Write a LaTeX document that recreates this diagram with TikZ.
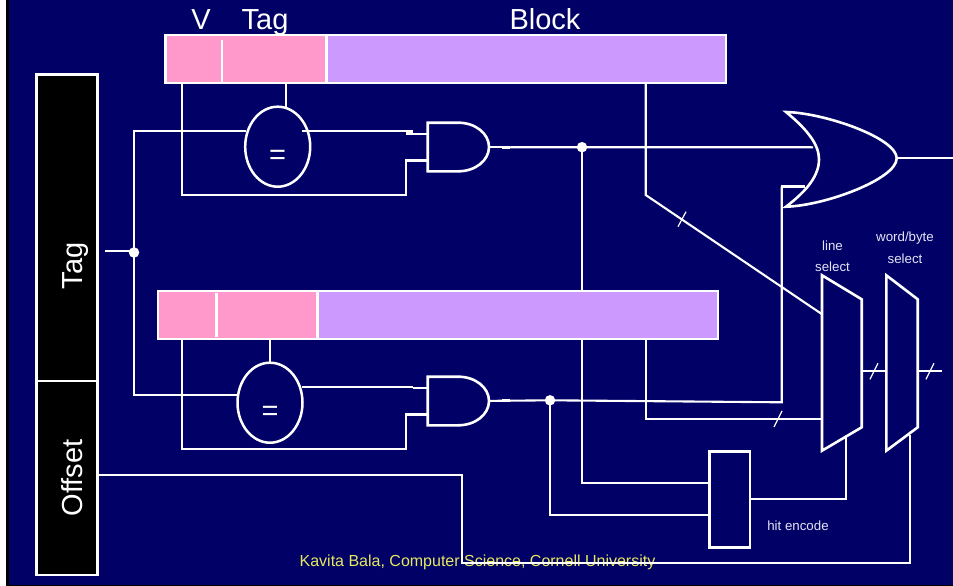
\documentclass[tikz,border=0pt]{standalone}
\usepackage{fontspec}
\setmainfont{Liberation Sans}
\usetikzlibrary{calc,shapes.geometric}
\definecolor{navybg}{HTML}{000066}
\definecolor{pinkf}{HTML}{FF99CC}
\definecolor{purplef}{HTML}{CC99FF}
\definecolor{foot}{HTML}{E8E860}
\definecolor{softw}{HTML}{E4E4F6}
\newcommand{\bigtxt}{\fontsize{29}{31}\selectfont}
\newcommand{\smalltxt}{\fontsize{13.3}{15}\selectfont}
\tikzset{
  wire/.style={draw=white,line width=2.1pt,line join=miter},
  thickwire/.style={draw=white,line width=3pt},
  tick/.style={draw=white,line width=1.2pt},
  outline/.style={draw=white,line width=2.6pt,line join=miter},
  gatebody/.style={inner sep=0pt,outer sep=0pt},
  regbox/.style={draw=white,line width=2.8pt,inner sep=0pt,outer sep=0pt,minimum height=48pt},
  cmp/.style={ellipse,draw=white,line width=2.5pt,fill=navybg,inner sep=0pt,outer sep=0pt,minimum width=65pt,minimum height=80pt},
  fieldbox/.style={draw=white,line width=2.8pt,fill=black,inner sep=0pt,outer sep=0pt,minimum width=60.6pt},
  junction/.style={circle,fill=white,inner sep=0pt,minimum size=10.5pt},
  big/.style={text=white,font=\bigtxt,anchor=base,inner sep=0pt},
  small/.style={text=softw,font=\smalltxt,inner sep=0pt}
}
\newcommand{\andoutline}[1]{%
  \draw[outline,shift={(#1.center)}] (-30.65,-24.3) -- (0,-24.3) .. controls (17,-24.3) and (30.65,-13.4) .. (30.65,0)
    .. controls (30.65,13.4) and (17,24.3) .. (0,24.3) -- (-30.65,24.3) -- cycle;}
\begin{document}
\begin{tikzpicture}[x=1pt,y=-1pt]
\useasboundingbox (0,0) rectangle (953,586);
\fill[navybg] (0,0) rectangle (953,586);
\fill[black] (0,585) rectangle (953,586);
\fill[black] (6,0) rectangle (8.5,586);
\fill[white] (0,0) rectangle (6,586);

% registers
\node[regbox,fill=pinkf,minimum width=161.2pt] (tagA) at (246.1,59) {};
\node[regbox,fill=purplef,minimum width=399.3pt] (blockA) at (526.4,59) {};
\node[regbox,fill=pinkf,minimum width=159.7pt] (tagB) at (237.85,315) {};
\node[regbox,fill=purplef,minimum width=400.3pt] (blockB) at (517.85,315) {};
\coordinate (divAtop) at (222,40);
\coordinate (divBtop) at (216.7,293);
\draw[draw=white,line width=2.8pt] (divAtop) -- (divAtop |- tagA.south);
\draw[draw=white,line width=2.8pt] (divBtop) -- (216.7,337);

% address fields
\node[fieldbox,minimum height=306.5pt] (fieldTag) at (67,227.8) {};
\node[fieldbox,minimum height=194pt] (fieldOff) at (67,478) {};
\node[big,rotate=90] (labTag) at (82,266) {Tag};
\node[big,rotate=90] (labOff) at (82,478) {Offset};

% headings
\node[big] (hV) at (201,29.5) {V};
\node[big] (hTag) at (265,29.5) {Tag};
\node[big] (hBlock) at (545,29.5) {Block};

% comparators
\node[cmp] (eqA) at (277.7,146.7) {};
\node[cmp] (eqB) at (270,402.7) {};
\node[big] (eqAt) at (277.7,164.3) {=};
\node[big] (eqBt) at (270,420.3) {=};

% and gates
\node[gatebody,minimum width=61.3pt,minimum height=48.6pt] (andA) at (458.35,147) {};
\node[gatebody,minimum width=61.3pt,minimum height=48.6pt] (andB) at (458.35,401) {};
\andoutline{andA}
\andoutline{andB}

% or gate
\node[gatebody,minimum width=110.7pt,minimum height=94.7pt] (orG) at (841.35,159.35) {};
\draw[outline] (orG.north west) .. controls (825,113) and (896.7,138) .. (896.7,158.3)
  .. controls (896.7,179) and (825,205.7) .. (orG.south west)
  .. controls (808,190) and (819,175) .. (819,159.3)
  .. controls (819,145) and (808,130) .. cycle;

% muxes
\coordinate (muxAa) at (822,275.3);
\coordinate (muxAb) at (861.7,299.3);
\coordinate (muxAc) at (861.7,427.3);
\coordinate (muxAd) at (822,450.7);
\coordinate (muxBa) at (886.3,275.3);
\coordinate (muxBb) at (917.7,299.3);
\coordinate (muxBc) at (917.7,427.3);
\coordinate (muxBd) at (886.3,450.7);
\draw[outline] (muxAa) -- (muxAb) -- (muxAc) -- (muxAd) -- cycle;
\draw[outline] (muxBa) -- (muxBb) -- (muxBc) -- (muxBd) -- cycle;

% hit encoder
\node[draw=white,line width=2.6pt,inner sep=0pt,outer sep=0pt,minimum width=40.7pt,minimum height=96pt] (enc) at (729.65,499.3) {};

% small labels
\node[small] (lLine) at (832.5,245.5) {line};
\node[small] (lSel) at (832.5,266.5) {select};
\node[small] (lWord) at (905,237.7) {word/byte};
\node[small] (lSelB) at (905,258.7) {select};
\node[small] (lHit) at (798,525.7) {hit encode};
\node[text=foot,font=\fontsize{16}{18}\selectfont,inner sep=0pt] (foot) at (477.5,562.5) {Kavita Bala, Computer Science, Cornell University};

% junctions
\node[junction] (dotT) at (134,252.5) {};
\node[junction] (dotA) at (582,147.2) {};
\node[junction] (dotB) at (550,400.3) {};

% tag input
\coordinate (tagStub) at (105,251);
\draw[wire] (tagStub) -- (dotT.center |- tagStub);
\draw[wire] (245.5,131) -- (134,131) -- (dotT.center) -- (134,395) -- (237.7,395);

% first set
\draw[wire] (285.7,83) -- (285.7,107.5);
\draw[wire] (182,83) -- (182,195) -- (405.7,195) -- (405.7,161);
\draw[thickwire] (404.8,160.4) -- (andA.west |- 0,160.4);
\draw[wire] (302,131) -- (413,131);
\draw[thickwire] (406,133) -- (413,133);
\draw[wire] (413,133.7) -- (andA.west |- 0,133.7);
\draw[wire] (andA.east) -- (502,147);
\draw[thickwire] (502,147) -- (510,147);
\draw[wire] (510,147.3) -- (dotA.center) -- (813,147.3);
\draw[wire] (dotA.center) -- (dotA.center |- blockB.north);
\draw[wire] (orG.east |- 0,158.3) -- (953,158.3);

% second set
\draw[wire] (270,339) -- (eqB.north);
\draw[wire] (182,339) -- (182,449.3) -- (405.7,449.3) -- (405.7,413.2);
\draw[thickwire] (404.8,414) -- (andB.west |- 0,414);
\draw[wire] (302,387.3) -- (413,387.3);
\draw[wire] (413,388) -- (andB.west |- 0,388);
\draw[wire] (andB.east) -- (502,400.7);
\draw[thickwire] (502,400.7) -- (510,400.7);
\draw[wire] (510,400.7) -- (dotB.center) -- (781.7,402.3) -- (781.7,186.7);
\draw[thickwire] (780.6,186.7) -- (805,186.7);

% data paths
\draw[wire] (645.7,83) -- (645.7,195) -- (821.7,314);
\draw[wire] (645.7,339) -- (645.7,419) -- (821.7,419);
\draw[wire] (muxAb |- 0,371.3) -- (muxBa |- 0,371.3);
\draw[wire] (muxBb |- 0,371.3) -- (941.7,371.3);

% select lines
\draw[wire] (dotA.center |- blockB.south) -- (582,482.7) -- (enc.west |- 0,482.7);
\draw[wire] (dotB.center) -- (550,515.3) -- (enc.west |- 0,515.3);
\draw[wire] (enc.east) -- (846,499.3) -- (846,437);
\draw[wire] (97,475) -- (462,475) -- (462,562.7) -- (910,562.7) -- (910,435);

% bus ticks
\draw[tick] (686,211.7) -- (678,226.7);
\draw[tick] (782,411) -- (774,427);
\draw[tick] (878,363.3) -- (870,379.3);
\draw[tick] (934,363.3) -- (926,379.3);
\end{tikzpicture}
\end{document}
